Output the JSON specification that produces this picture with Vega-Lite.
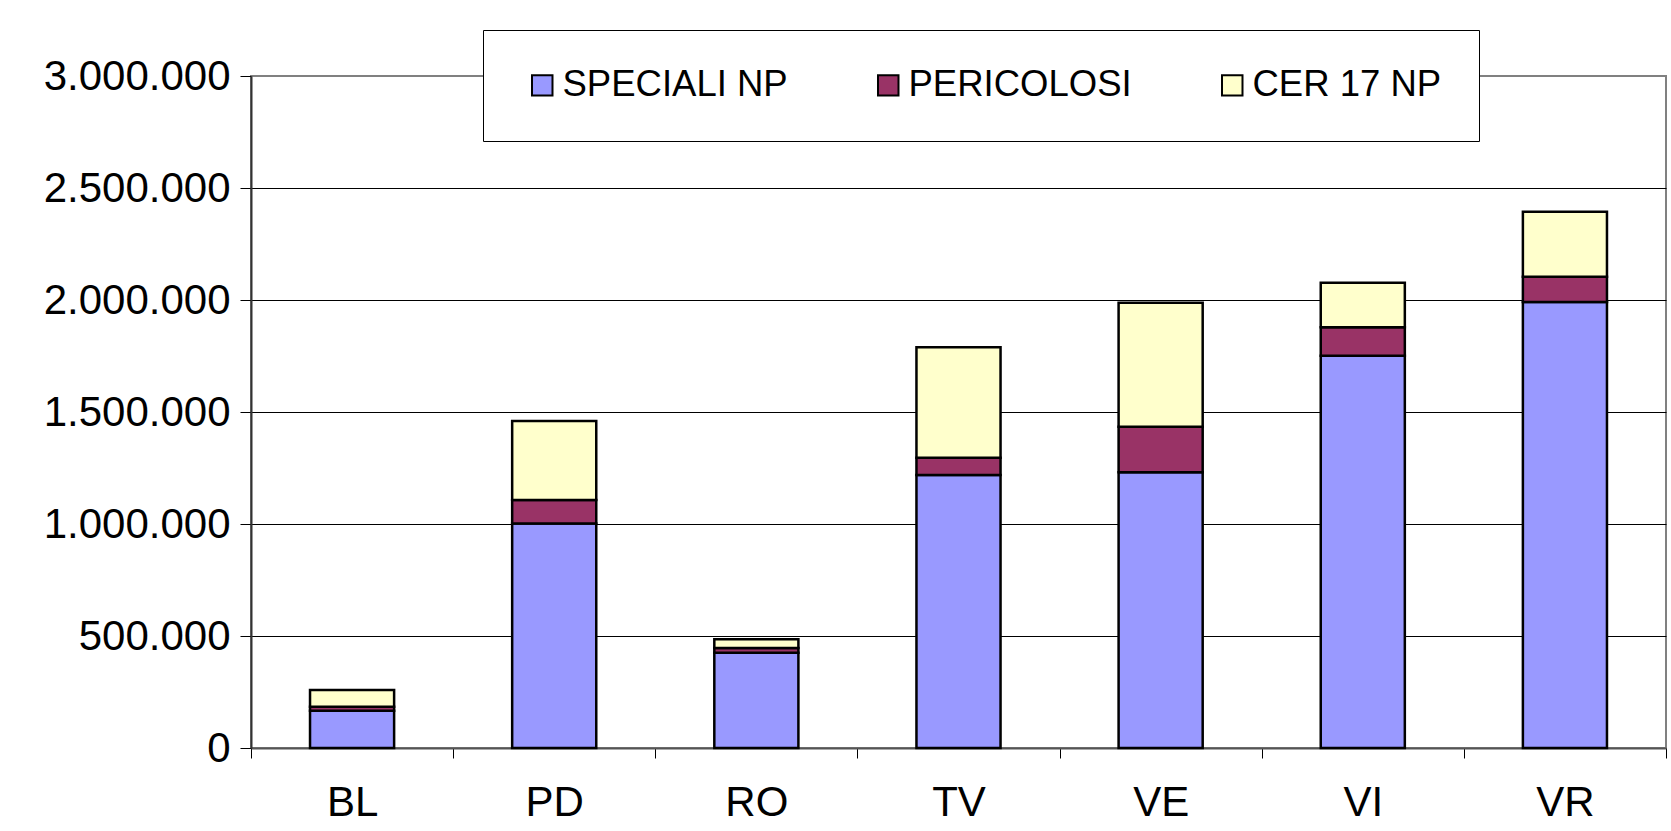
{
  "$schema": "https://vega.github.io/schema/vega-lite/v6.json",
  "autosize": {"type": "none"},
  "width": 1415,
  "height": 672,
  "padding": {"left": 251, "top": 76, "right": 5, "bottom": 83},
  "background": "white",
  "config": {
    "locale": {"number": {"decimal": ",", "thousands": ".", "grouping": [3], "currency": ["€", ""]}},
    "font": "Liberation Sans",
    "view": {"stroke": "#808080", "strokeWidth": 2}
  },
  "data": {
    "values": [
      {"prov": "BL", "tipo": "SPECIALI NP", "t": 166000},
      {"prov": "BL", "tipo": "PERICOLOSI", "t": 18000},
      {"prov": "BL", "tipo": "CER 17 NP", "t": 75000},
      {"prov": "PD", "tipo": "SPECIALI NP", "t": 1002000},
      {"prov": "PD", "tipo": "PERICOLOSI", "t": 105000},
      {"prov": "PD", "tipo": "CER 17 NP", "t": 353000},
      {"prov": "RO", "tipo": "SPECIALI NP", "t": 425000},
      {"prov": "RO", "tipo": "PERICOLOSI", "t": 21000},
      {"prov": "RO", "tipo": "CER 17 NP", "t": 39000},
      {"prov": "TV", "tipo": "SPECIALI NP", "t": 1219000},
      {"prov": "TV", "tipo": "PERICOLOSI", "t": 77000},
      {"prov": "TV", "tipo": "CER 17 NP", "t": 493000},
      {"prov": "VE", "tipo": "SPECIALI NP", "t": 1231000},
      {"prov": "VE", "tipo": "PERICOLOSI", "t": 203000},
      {"prov": "VE", "tipo": "CER 17 NP", "t": 554000},
      {"prov": "VI", "tipo": "SPECIALI NP", "t": 1751000},
      {"prov": "VI", "tipo": "PERICOLOSI", "t": 127000},
      {"prov": "VI", "tipo": "CER 17 NP", "t": 199000},
      {"prov": "VR", "tipo": "SPECIALI NP", "t": 1991000},
      {"prov": "VR", "tipo": "PERICOLOSI", "t": 113000},
      {"prov": "VR", "tipo": "CER 17 NP", "t": 290000}
    ]
  },
  "mark": {"type": "bar", "width": {"band": 0.416}, "stroke": "black", "strokeWidth": 2.5},
  "encoding": {
    "x": {
      "field": "prov",
      "type": "nominal",
      "scale": {"paddingInner": 0, "paddingOuter": 0},
      "axis": {
        "title": null,
        "labelAngle": 0,
        "labelFont": "Liberation Sans",
        "labelFontSize": 42,
        "labelColor": "black",
        "labelPadding": 24,
        "labelLimit": 0,
        "tickBand": "extent",
        "tickSize": 10,
        "tickColor": "black",
        "tickWidth": 1,
        "domainColor": "#555555",
        "domainWidth": 2,
        "grid": false
      }
    },
    "y": {
      "field": "t",
      "type": "quantitative",
      "stack": "zero",
      "scale": {"domain": [0, 3000000], "nice": false},
      "axis": {
        "title": null,
        "values": [0, 500000, 1000000, 1500000, 2000000, 2500000, 3000000],
        "format": ",d",
        "labelFont": "Liberation Sans",
        "labelFontSize": 42,
        "labelColor": "black",
        "labelPadding": 10,
        "labelLimit": 0,
        "tickSize": 11,
        "tickColor": "black",
        "tickWidth": 1,
        "domainColor": "#333333",
        "domainWidth": 2,
        "grid": true,
        "gridColor": {"condition": {"test": "datum.value >= 3000000 || datum.value <= 0", "value": "#808080"}, "value": "black"},
        "gridWidth": 1
      }
    },
    "color": {
      "field": "tipo",
      "type": "nominal",
      "sort": ["SPECIALI NP", "PERICOLOSI", "CER 17 NP"],
      "scale": {"domain": ["SPECIALI NP", "PERICOLOSI", "CER 17 NP"], "range": ["#9999FF", "#993366", "#FFFFCC"]},
      "legend": {
        "title": null,
        "orient": "none",
        "legendX": 232,
        "legendY": -46,
        "direction": "horizontal",
        "columns": 3,
        "padding": 37,
        "columnPadding": 78,
        "strokeColor": "black",
        "fillColor": "white",
        "symbolType": "square",
        "symbolSize": 420,
        "symbolStrokeColor": "black",
        "symbolStrokeWidth": 2,
        "symbolOpacity": 1,
        "symbolOffset": 4,
        "labelOffset": 2,
        "labelFont": "Liberation Sans",
        "labelFontSize": 36.5,
        "labelColor": "black",
        "labelLimit": 0
      }
    },
    "order": {"field": "tipo", "sort": "descending"}
  }
}
